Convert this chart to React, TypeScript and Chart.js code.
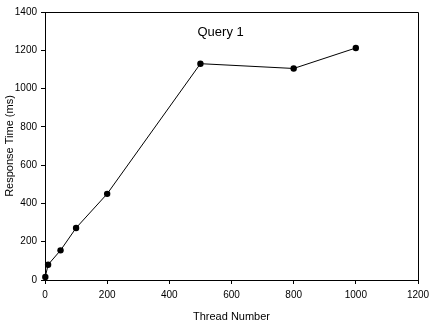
import React, { useEffect, useRef } from "react";
import { Chart, registerables } from "chart.js";

Chart.register(...registerables);

const threads = [1, 10, 50, 100, 200, 500, 800, 1000];
const responseMs = [16, 80, 155, 272, 450, 1130, 1105, 1212];
const xTicks = [0, 200, 400, 600, 800, 1000, 1200];
const yTicks = [0, 200, 400, 600, 800, 1000, 1200, 1400];
const chartTitle = "Query 1";
const xTitle = "Thread Number";
const yTitle = "Response Time (ms)";

const FONT = "'Liberation Sans', Arial, Helvetica, sans-serif";

const framePlugin = {
  id: "frame",
  afterDraw(chart: any) {
    const { ctx, chartArea } = chart;
    ctx.save();
    ctx.strokeStyle = "#000";
    ctx.lineWidth = 1;
    ctx.beginPath();
    ctx.moveTo(Math.round(chartArea.left) + 0.5, Math.round(chartArea.top) + 0.5);
    ctx.lineTo(Math.round(chartArea.right) + 0.5, Math.round(chartArea.top) + 0.5);
    ctx.lineTo(Math.round(chartArea.right) + 0.5, Math.round(chartArea.bottom) + 0.5);
    ctx.stroke();
    const xs = chart.scales.x;
    const ys = chart.scales.y;
    ctx.fillStyle = "#000";
    ctx.font = `13px ${FONT}`;
    ctx.textAlign = "center";
    ctx.textBaseline = "middle";
    ctx.fillText(chartTitle, xs.getPixelForValue(565), ys.getPixelForValue(1295));
    ctx.restore();
  },
};

export default function App() {
  const ref = useRef<HTMLCanvasElement | null>(null);
  useEffect(() => {
    if (!ref.current) return;
    const chart = new Chart(ref.current, {
      type: "scatter",
      data: {
        datasets: [
          {
            data: threads.map((t, i) => ({ x: t, y: responseMs[i] })),
            showLine: true,
            borderColor: "#000",
            backgroundColor: "#000",
            borderWidth: 1,
            pointRadius: 3.2,
            pointHoverRadius: 3.2,
            pointBorderWidth: 0,
            clip: false,
          },
        ],
      },
      options: {
        animation: false,
        responsive: false,
        layout: { padding: { left: 3, top: 12, right: 11, bottom: 0 } },
        plugins: { legend: { display: false }, tooltip: { enabled: false }, title: { display: false } },
        scales: {
          x: {
            type: "linear",
            min: 0,
            max: 1200,
            afterBuildTicks: (s: any) => {
              s.ticks = xTicks.map((v) => ({ value: v }));
            },
            afterFit: (s: any) => {
              s.height = 44;
              s.paddingRight = 0;
              s.paddingLeft = 0;
            },
            grid: { drawOnChartArea: false, drawTicks: true, tickLength: 4, color: "#000" },
            border: { display: true, color: "#000", width: 1 },
            ticks: { color: "#000", font: { family: FONT, size: 10 }, padding: 5, maxRotation: 0, callback: (v: any) => String(v) },
            title: { display: true, text: xTitle, color: "#000", font: { family: FONT, size: 11 }, padding: { top: 2, bottom: 0 } },
          },
          y: {
            type: "linear",
            min: 0,
            max: 1400,
            afterBuildTicks: (s: any) => {
              s.ticks = yTicks.map((v) => ({ value: v }));
            },
            afterFit: (s: any) => {
              s.width = 42;
              s.paddingTop = 0;
              s.paddingBottom = 0;
            },
            grid: { drawOnChartArea: false, drawTicks: true, tickLength: 4, color: "#000" },
            border: { display: true, color: "#000", width: 1 },
            ticks: { color: "#000", font: { family: FONT, size: 10 }, padding: 4, callback: (v: any) => String(v) },
            title: { display: true, text: yTitle, color: "#000", font: { family: FONT, size: 11 }, padding: { top: 0, bottom: 2 } },
          },
        },
      },
      plugins: [framePlugin],
    });
    return () => chart.destroy();
  }, []);
  return (
    <div style={{ position: "fixed", left: 0, top: 0, width: 429, height: 324, background: "#fff" }}>
      <canvas ref={ref} width={429} height={324} style={{ width: 429, height: 324 }} />
    </div>
  );
}
